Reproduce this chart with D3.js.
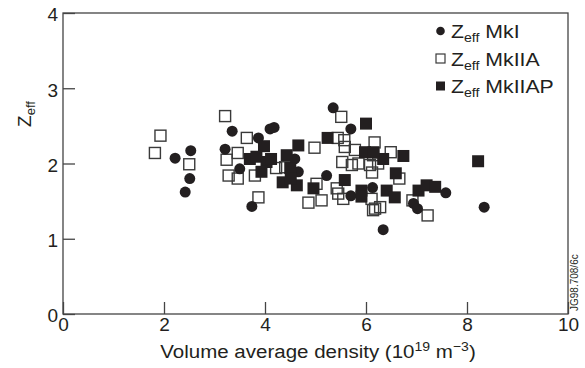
<!DOCTYPE html>
<html>
<head>
<meta charset="utf-8">
<script src="https://cdn.jsdelivr.net/npm/d3@7"></script>
<style>
  body { margin: 0; background: #fff; }
  svg { display: block; font-family: "Liberation Sans", Arial, Helvetica, sans-serif; }
</style>
</head>
<body>
<div id="chart"></div>
<script>
// Zeff vs volume average density, three series
const mk1 = [
  [2.22, 2.07], [2.53, 2.17], [2.51, 1.80], [2.42, 1.62], [3.35, 2.43], [3.87, 2.34],
  [3.21, 2.19], [3.50, 1.93], [3.74, 1.43], [4.10, 2.46], [4.18, 2.48], [4.59, 2.06],
  [4.66, 1.89], [5.22, 1.84], [5.35, 2.74], [5.70, 2.46], [5.70, 1.57], [6.13, 1.68],
  [6.34, 1.12], [6.94, 1.47], [7.02, 1.40], [7.58, 1.61], [8.34, 1.42]
];
const mk2a = [
  [1.82, 2.14], [1.93, 2.37], [2.50, 1.99], [3.21, 2.63], [3.64, 2.34], [3.46, 2.14],
  [3.24, 2.05], [3.28, 1.84], [3.46, 1.80], [3.80, 1.84], [3.87, 1.55], [4.98, 2.21],
  [5.44, 2.34], [5.51, 2.62], [5.57, 2.31], [5.58, 2.22], [5.78, 2.18], [6.17, 2.28],
  [6.49, 2.15], [6.14, 2.11], [4.40, 1.95], [5.53, 2.02], [5.72, 1.98], [5.85, 2.00],
  [6.08, 1.98], [5.02, 1.73], [4.86, 1.48], [5.12, 1.51], [5.42, 1.67], [5.45, 1.60],
  [5.55, 1.53], [6.11, 1.53], [6.14, 1.38], [6.18, 1.40], [6.28, 1.42], [6.66, 1.80],
  [6.92, 1.51], [7.22, 1.31], [4.22, 1.94], [6.24, 2.00], [6.12, 1.88]
];
const mk2ap = [
  [3.70, 2.06], [3.98, 2.23], [3.83, 2.09], [4.03, 2.02], [3.93, 1.89], [4.43, 2.11],
  [4.66, 2.24], [4.35, 1.75], [4.63, 1.71], [4.96, 1.67], [5.24, 2.34], [6.00, 2.53],
  [5.98, 2.15], [5.58, 1.78], [5.91, 1.64], [5.91, 1.56], [6.34, 2.06], [6.74, 2.10],
  [6.59, 1.87], [6.41, 1.64], [6.57, 1.55], [7.04, 1.64], [7.20, 1.71], [7.37, 1.69],
  [8.22, 2.03], [4.50, 1.94], [4.51, 1.80], [4.12, 2.06], [6.15, 2.15]
];
const xTicks = [0, 2, 4, 6, 8, 10];
const yTicks = [0, 1, 2, 3, 4];
const legendNames = ['MkI', 'MkIIA', 'MkIIAP'];

const W = 585, H = 368;
const ink = '#231f20';
const svg = d3.select('#chart').append('svg')
  .attr('width', W)
  .attr('height', H);

const x = d3.scaleLinear().domain([0, 10]).range([63, 568]);
const y = d3.scaleLinear().domain([0, 4]).range([314, 13]);

// frame
svg.append('rect')
  .attr('x', x(0)).attr('y', y(4))
  .attr('width', x(10) - x(0)).attr('height', y(0) - y(4))
  .attr('fill', 'none').attr('stroke', '#444').attr('stroke-width', 1.3);

// axes with inward ticks
const gx = svg.append('g')
  .attr('transform', `translate(0,${y(0)})`)
  .call(d3.axisBottom(x).tickValues(xTicks).tickSize(-12).tickPadding(4).tickFormat(d3.format('d')));
const gy = svg.append('g')
  .attr('transform', `translate(${x(0)},0)`)
  .call(d3.axisLeft(y).tickValues(yTicks).tickSize(-12).tickPadding(5).tickFormat(d3.format('d')));
[gx, gy].forEach(g => {
  g.select('.domain').remove();
  g.selectAll('line').attr('stroke', '#444').attr('stroke-width', 1.3);
  g.selectAll('text').attr('font-size', 19).attr('fill', ink)
    .attr('font-family', '"Liberation Sans", Arial, sans-serif');
});
gy.selectAll('text').attr('dy', '0.42em');

// axis titles
const yl = svg.append('text')
  .attr('transform', 'translate(31,114) rotate(-90)')
  .attr('text-anchor', 'middle')
  .attr('font-size', 19).attr('fill', ink);
yl.append('tspan').text('Z');
yl.append('tspan').attr('font-size', 13).attr('dy', 4).text('eff');

const xl = svg.append('text')
  .attr('transform', 'translate(318,358) scale(1.08,1)')
  .attr('text-anchor', 'middle')
  .attr('font-size', 19).attr('fill', ink);
xl.append('tspan').text('Volume average density (10');
xl.append('tspan').attr('font-size', 13).attr('dy', -7).text('19');
xl.append('tspan').attr('dy', 7).text(' m');
xl.append('tspan').attr('font-size', 13).attr('dy', -7).text('\u22123');
xl.append('tspan').attr('dy', 7).text(')');

// side label
svg.append('text')
  .attr('transform', 'translate(578,311) rotate(-90)')
  .attr('font-size', 10).attr('fill', ink)
  .text('JG98.708/6c');

// markers
const s = 11;
svg.append('g').selectAll('rect')
  .data(mk2a).join('rect')
  .attr('x', d => x(d[0]) - s / 2).attr('y', d => y(d[1]) - s / 2)
  .attr('width', s).attr('height', s)
  .attr('fill', 'none').attr('stroke', '#3a3a3a').attr('stroke-width', 1.4);

svg.append('g').selectAll('circle')
  .data(mk1).join('circle')
  .attr('cx', d => x(d[0])).attr('cy', d => y(d[1]))
  .attr('r', 5.5).attr('fill', ink);

svg.append('g').selectAll('rect')
  .data(mk2ap).join('rect')
  .attr('x', d => x(d[0]) - 6).attr('y', d => y(d[1]) - 6)
  .attr('width', 12).attr('height', 12)
  .attr('fill', ink);

// legend
const lg = svg.append('g');
legendNames.forEach((name, i) => {
  const cy = 31 + i * 27.5;
  if (i === 0) {
    lg.append('circle').attr('cx', 440.5).attr('cy', cy).attr('r', 4.3).attr('fill', ink);
  } else {
    lg.append('rect').attr('x', 436).attr('y', cy - 4.5).attr('width', 9).attr('height', 9)
      .attr('fill', i === 1 ? 'none' : ink)
      .attr('stroke', i === 1 ? '#3a3a3a' : 'none').attr('stroke-width', 1.2);
  }
  const t = lg.append('text')
    .attr('transform', `translate(451,${cy + 7}) scale(1.18,1)`)
    .attr('font-size', 18).attr('fill', ink);
  t.append('tspan').text('Z');
  t.append('tspan').attr('font-size', 12).attr('dy', 4).text('eff');
  t.append('tspan').attr('dy', -4).text(' ' + name);
});
</script>
</body>
</html>
